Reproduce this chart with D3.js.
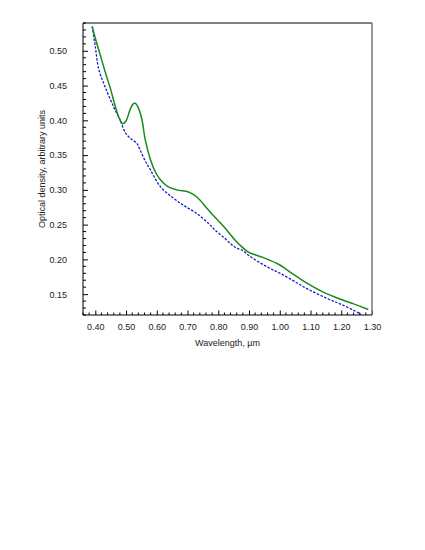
<!DOCTYPE html>
<html>
<head>
<meta charset="utf-8">
<script src="https://cdn.jsdelivr.net/npm/d3@7"></script>
<style>
    body { margin: 0; background: #fff; }
    text { font-family: "Liberation Sans", Arial, sans-serif; font-size: 9px; fill: #222; }
</style>
</head>
<body>
<div id="chart"></div>
<script>
// Green solid curve (wavelength, optical density)
const greenWl = [0.39, 0.40, 0.416, 0.432, 0.449, 0.465, 0.478, 0.489, 0.500, 0.512, 0.522, 0.530, 0.540, 0.552, 0.562, 0.579, 0.595, 0.611, 0.635, 0.665, 0.703, 0.720, 0.741, 0.762, 0.784, 0.806, 0.822, 0.854, 0.877, 0.898, 0.947, 0.996, 1.040, 1.088, 1.142, 1.196, 1.240, 1.288];
const greenOd = [0.535, 0.518, 0.494, 0.470, 0.446, 0.420, 0.403, 0.395, 0.399, 0.414, 0.423, 0.4245, 0.418, 0.4005, 0.373, 0.344, 0.326, 0.315, 0.305, 0.300, 0.297, 0.293, 0.285, 0.274, 0.263, 0.253, 0.245, 0.228, 0.218, 0.2105, 0.2025, 0.193, 0.180, 0.166, 0.153, 0.143, 0.136, 0.128];

// Blue dashed curve
const blueWl = [0.39, 0.40, 0.411, 0.432, 0.459, 0.481, 0.498, 0.514, 0.535, 0.546, 0.562, 0.579, 0.611, 0.654, 0.690, 0.730, 0.770, 0.790, 0.822, 0.844, 0.860, 0.877, 0.898, 0.930, 0.968, 1.001, 1.045, 1.088, 1.153, 1.196, 1.239, 1.265];
const blueOd = [0.535, 0.506, 0.474, 0.448, 0.420, 0.400, 0.382, 0.374, 0.367, 0.357, 0.342, 0.329, 0.305, 0.288, 0.277, 0.266, 0.251, 0.242, 0.230, 0.221, 0.216, 0.2135, 0.206, 0.1967, 0.187, 0.180, 0.169, 0.158, 0.144, 0.136, 0.127, 0.121];

const xTicks = [0.40, 0.50, 0.60, 0.70, 0.80, 0.90, 1.00, 1.10, 1.20, 1.30];
const yTicks = [0.15, 0.20, 0.25, 0.30, 0.35, 0.40, 0.45, 0.50];

const margin = { top: 23, right: 53, bottom: 235, left: 83 };
const width = 425 - margin.left - margin.right;
const height = 550 - margin.top - margin.bottom;

const svg = d3.select("#chart")
    .append("svg")
    .attr("width", 425)
    .attr("height", 550)
    .append("g")
    .attr("transform", `translate(${margin.left}, ${margin.top})`);

const x = d3.scaleLinear().domain([0.36, 1.30]).range([0, width]);
const y = d3.scaleLinear().domain([0.12, 0.54]).range([height, 0]);

svg.append("clipPath").attr("id", "clip")
    .append("rect").attr("width", width).attr("height", height);

// minor ticks
const xMinor = d3.range(0.36, 1.3001, 0.02).filter(v => !xTicks.some(t => Math.abs(t - v) < 1e-6));
const yMinor = d3.range(0.12, 0.5401, 0.01).filter(v => !yTicks.some(t => Math.abs(t - v) < 1e-6));

svg.selectAll(".xminor").data(xMinor).enter().append("line")
    .attr("x1", d => x(d)).attr("x2", d => x(d))
    .attr("y1", height).attr("y2", height - 2.5)
    .attr("stroke", "#000").attr("stroke-width", 1);

svg.selectAll(".yminor").data(yMinor).enter().append("line")
    .attr("y1", d => y(d)).attr("y2", d => y(d))
    .attr("x1", 0).attr("x2", 3)
    .attr("stroke", "#000").attr("stroke-width", 1);

// major ticks + labels
const xAxis = svg.append("g")
    .attr("transform", `translate(0, ${height})`)
    .call(d3.axisBottom(x).tickValues(xTicks).tickFormat(d3.format(".2f")).tickSizeInner(-4.5).tickSizeOuter(0).tickPadding(9));
const yAxis = svg.append("g")
    .call(d3.axisLeft(y).tickValues(yTicks).tickFormat(d3.format(".2f")).tickSizeInner(-5).tickSizeOuter(0).tickPadding(16));

[xAxis, yAxis].forEach(a => {
    a.select(".domain").remove();
    a.selectAll("text").attr("font-size", 9).attr("font-family", null).attr("fill", "#222");
    a.selectAll("line").attr("stroke", "#000");
});

// frame
svg.append("line").attr("x1", 0).attr("x2", width).attr("y1", 0).attr("y2", 0).attr("stroke", "#000");
svg.append("line").attr("x1", width).attr("x2", width).attr("y1", 0).attr("y2", height).attr("stroke", "#777").attr("stroke-width", 1.5);
svg.append("line").attr("x1", 0).attr("x2", 0).attr("y1", 0).attr("y2", height).attr("stroke", "#000");
svg.append("line").attr("x1", 0).attr("x2", width).attr("y1", height).attr("y2", height).attr("stroke", "#000");

const line = d3.line()
    .x(d => x(d[0]))
    .y(d => y(d[1]))
    .curve(d3.curveCatmullRom.alpha(0.5));

const plot = svg.append("g").attr("clip-path", "url(#clip)");

plot.append("path")
    .datum(d3.zip(blueWl, blueOd))
    .attr("d", line)
    .attr("fill", "none")
    .attr("stroke", "#1a1acc")
    .attr("stroke-width", 1.3)
    .attr("stroke-dasharray", "2.5,1.5");

plot.append("path")
    .datum(d3.zip(greenWl, greenOd))
    .attr("d", line)
    .attr("fill", "none")
    .attr("stroke", "#1a8a1a")
    .attr("stroke-width", 1.5);

// axis titles
svg.append("text")
    .attr("x", width / 2)
    .attr("y", height + 31)
    .attr("text-anchor", "middle")
    .text("Wavelength, \u00b5m");

svg.append("text")
    .attr("transform", `translate(-38, ${height / 2}) rotate(-90)`)
    .attr("text-anchor", "middle")
    .text("Optical density, arbitrary units");
</script>
</body>
</html>
